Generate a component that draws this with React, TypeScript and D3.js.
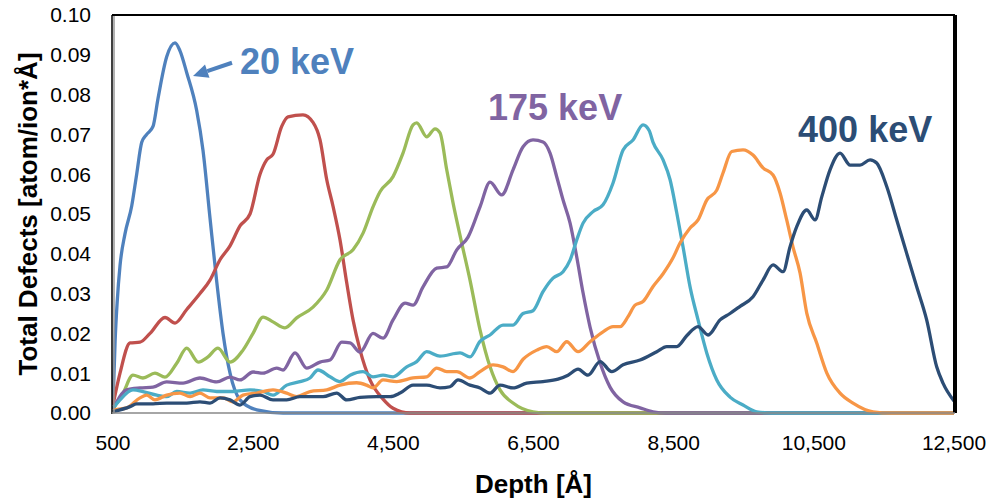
import * as d3 from "d3";

// [depth (Å), defects (atom/ion*Å)]
const e20: [number, number][] = [
  [500, 0.002], [530, 0.018], [560, 0.028], [600, 0.037], [671, 0.045], [767, 0.052],
  [838, 0.06], [910, 0.068], [981, 0.07], [1071, 0.072], [1142, 0.079], [1266, 0.0895],
  [1385, 0.093], [1456, 0.091], [1552, 0.0855], [1694, 0.076], [1784, 0.066], [1884, 0.049],
  [1980, 0.033], [2070, 0.02], [2170, 0.01], [2312, 0.0033], [2551, 0.0008], [2926, 0],
  [12500, 0],
];
const e2: [number, number][] = [
  [500, 0.002], [600, 0.01], [743, 0.0176], [885, 0.0178], [1028, 0.02], [1242, 0.024],
  [1385, 0.0226], [1552, 0.026], [1741, 0.03], [1884, 0.0334], [2027, 0.0385], [2170, 0.042],
  [2312, 0.047], [2455, 0.05], [2598, 0.06], [2693, 0.0636], [2783, 0.065], [2907, 0.072],
  [2997, 0.0744], [3211, 0.0749], [3354, 0.073], [3454, 0.0686], [3550, 0.0586], [3639, 0.052],
  [3739, 0.0435], [3835, 0.0327], [3925, 0.0234], [4025, 0.0158], [4167, 0.0083], [4353, 0.0035],
  [4496, 0.0012], [4738, 0], [12500, 0],
];
const e3: [number, number][] = [
  [500, 0.001], [643, 0.005], [785, 0.0095], [928, 0.0088], [1099, 0.01], [1242, 0.009],
  [1409, 0.0125], [1552, 0.0163], [1717, 0.0128], [1856, 0.0141], [1998, 0.0163], [2170, 0.0128],
  [2355, 0.0158], [2498, 0.02], [2641, 0.0241], [2783, 0.0229], [2954, 0.0214], [3121, 0.0239],
  [3354, 0.0266], [3550, 0.0309], [3739, 0.0385], [3925, 0.041], [4068, 0.0452], [4210, 0.0518],
  [4310, 0.0556], [4496, 0.0594], [4638, 0.0653], [4781, 0.0724], [4834, 0.0729], [4976, 0.0694],
  [5095, 0.0714], [5166, 0.0704], [5262, 0.0611], [5352, 0.0528], [5476, 0.0427], [5594, 0.0334],
  [5737, 0.0209], [5880, 0.0116], [6022, 0.0058], [6208, 0.0025], [6493, 0.0003], [6700, 0],
  [12500, 0],
];
const e175: [number, number][] = [
  [500, 0.001], [695, 0.0058], [885, 0.0063], [1071, 0.0065], [1266, 0.0078], [1499, 0.0075],
  [1741, 0.0088], [1980, 0.0078], [2170, 0.009], [2312, 0.0083], [2498, 0.0103], [2641, 0.01],
  [2836, 0.0113], [2926, 0.0108], [3097, 0.0151], [3264, 0.0113], [3454, 0.0128], [3597, 0.0133],
  [3764, 0.0178], [3882, 0.0176], [4025, 0.0153], [4210, 0.02], [4353, 0.0188], [4496, 0.0234],
  [4667, 0.0276], [4781, 0.0271], [4924, 0.0317], [5119, 0.0364], [5262, 0.0367], [5405, 0.041],
  [5566, 0.0442], [5737, 0.0518], [5880, 0.058], [6047, 0.0548], [6208, 0.0611], [6351, 0.0669],
  [6493, 0.0686], [6636, 0.0681], [6736, 0.0653], [6832, 0.0593], [6922, 0.0535], [7022, 0.0477],
  [7117, 0.0392], [7207, 0.0302], [7307, 0.0216], [7450, 0.0126], [7592, 0.0065], [7778, 0.0028],
  [8020, 0.0013], [8206, 0.0003], [8400, 0], [12500, 0],
];
const e5: [number, number][] = [
  [500, 0.0012], [600, 0.0033], [785, 0.0058], [928, 0.0054], [1124, 0.0045], [1266, 0.0041],
  [1409, 0.0054], [1599, 0.005], [1784, 0.0058], [1980, 0.0054], [2212, 0.0054], [2455, 0.0058],
  [2641, 0.0054], [2783, 0.0045], [2979, 0.007], [3168, 0.0079], [3311, 0.0088], [3425, 0.0108],
  [3597, 0.0091], [3739, 0.0079], [3882, 0.0095], [4068, 0.0104], [4210, 0.0091], [4353, 0.0095],
  [4496, 0.0091], [4691, 0.0116], [4834, 0.0129], [4976, 0.0154], [5166, 0.0143], [5452, 0.0151],
  [5594, 0.0141], [5737, 0.018], [5880, 0.0196], [6065, 0.0221], [6208, 0.0221], [6351, 0.025],
  [6493, 0.0257], [6636, 0.0305], [6779, 0.0339], [6922, 0.0355], [7022, 0.0384], [7117, 0.0435],
  [7207, 0.0477], [7350, 0.0506], [7492, 0.0523], [7635, 0.0578], [7778, 0.0661], [7920, 0.0686],
  [8063, 0.0724], [8150, 0.071], [8206, 0.068], [8349, 0.0636], [8449, 0.0586], [8544, 0.0503],
  [8634, 0.0417], [8734, 0.0317], [8848, 0.0234], [8972, 0.0151], [9115, 0.0083], [9304, 0.004],
  [9490, 0.002], [9685, 0.0003], [9900, 0], [12500, 0],
];
const e6: [number, number][] = [
  [500, 0.0008], [695, 0.0013], [885, 0.0038], [981, 0.0045], [1099, 0.0033], [1266, 0.0045],
  [1456, 0.005], [1599, 0.0041], [1741, 0.005], [1884, 0.0038], [2070, 0.0038], [2212, 0.0028],
  [2355, 0.0045], [2551, 0.005], [2783, 0.0058], [2979, 0.005], [3121, 0.0041], [3311, 0.0054],
  [3550, 0.0058], [3739, 0.007], [3976, 0.0076], [4118, 0.007], [4210, 0.0063], [4353, 0.0083],
  [4548, 0.0079], [4781, 0.0088], [4976, 0.0091], [5119, 0.0113], [5262, 0.0104], [5405, 0.0104],
  [5594, 0.0088], [5737, 0.0104], [5923, 0.0121], [6065, 0.0116], [6208, 0.0104], [6351, 0.0135],
  [6546, 0.0158], [6689, 0.0167], [6832, 0.0154], [6974, 0.0179], [7136, 0.0154], [7307, 0.0179],
  [7492, 0.0204], [7635, 0.0217], [7735, 0.0217], [7849, 0.0242], [7949, 0.0271], [8063, 0.028],
  [8206, 0.0318], [8349, 0.035], [8491, 0.039], [8591, 0.0427], [8734, 0.0465], [8848, 0.0485],
  [8972, 0.0535], [9115, 0.056], [9204, 0.0603], [9328, 0.0657], [9490, 0.0661], [9632, 0.0648],
  [9775, 0.0616], [9918, 0.0598], [10018, 0.0553], [10113, 0.0485], [10203, 0.0417], [10303, 0.0352],
  [10399, 0.0251], [10541, 0.0176], [10684, 0.0101], [10874, 0.005], [11059, 0.0025], [11345, 0.0003],
  [11600, 0], [12500, 0],
];
const e400: [number, number][] = [
  [500, 0.0003], [743, 0.0016], [838, 0.0023], [1071, 0.0023], [1266, 0.0025], [1552, 0.0025],
  [1741, 0.0028], [1884, 0.0025], [2027, 0.0038], [2170, 0.0033], [2312, 0.002], [2455, 0.0041],
  [2598, 0.0045], [2783, 0.0033], [2979, 0.0033], [3168, 0.0041], [3354, 0.0041], [3497, 0.0041],
  [3692, 0.005], [3835, 0.0033], [4025, 0.0039], [4263, 0.0041], [4453, 0.0041], [4596, 0.005],
  [4781, 0.007], [4976, 0.007], [5166, 0.0063], [5309, 0.0066], [5423, 0.0083], [5594, 0.007],
  [5737, 0.0063], [5880, 0.005], [6022, 0.007], [6208, 0.0063], [6403, 0.0075], [6636, 0.0079],
  [6850, 0.0085], [6993, 0.0095], [7136, 0.011], [7278, 0.0095], [7450, 0.0129], [7616, 0.0104],
  [7778, 0.0121], [8020, 0.0133], [8259, 0.0154], [8401, 0.0167], [8544, 0.0167], [8686, 0.0194],
  [8848, 0.0217], [8991, 0.0196], [9162, 0.0234], [9304, 0.025], [9447, 0.0268], [9632, 0.0292],
  [9775, 0.0334], [9918, 0.0372], [10061, 0.0355], [10161, 0.0418], [10256, 0.0468], [10399, 0.051],
  [10517, 0.0485], [10613, 0.0543], [10731, 0.0611], [10874, 0.0653], [11017, 0.0623], [11159, 0.0623],
  [11302, 0.0636], [11397, 0.0628], [11540, 0.0569], [11683, 0.0485], [11825, 0.0401], [11968, 0.0317],
  [12110, 0.0234], [12253, 0.0116], [12343, 0.0075], [12500, 0.003],
];

const series = [e20, e2, e3, e175, e5, e6, e400];
const colors = ["#4F81BD", "#C0504D", "#9BBB59", "#8064A2", "#4BACC6", "#F79646", "#2C4D75"];

const xTicks = [500, 2500, 4500, 6500, 8500, 10500, 12500];
const yTicks = [0, 0.01, 0.02, 0.03, 0.04, 0.05, 0.06, 0.07, 0.08, 0.09, 0.1];

const labels = [
  { text: "20 keV", color: "#4F81BD", depth: 2312, value: 0.0852 },
  { text: "175 keV", color: "#8064A2", depth: 5851, value: 0.0735 },
  { text: "400 keV", color: "#2C4D75", depth: 10275, value: 0.0682 },
];
// arrow for the 20 keV label: tail, then tip near the curve
const arrow20: [number, number][] = [[2198, 0.088], [1642, 0.0847]];

const width = 990;
const height = 498;
const left = 112;
const right = 955;
const top = 15;
const bottom = 413;

export default function App() {
  const x = d3.scaleLinear([500, 12500], [left + 1, right - 1]);
  const y = d3.scaleLinear([0, 0.1], [bottom, top]);
  const line = d3
    .line<[number, number]>()
    .x((d) => x(d[0]))
    .y((d) => y(d[1]))
    .curve(d3.curveMonotoneX);
  const fmtX = d3.format(",");
  const fmtY = d3.format(".2f");
  const font = "'Liberation Sans', Arial, sans-serif";

  // arrow geometry in pixels
  const [tx, ty] = [x(arrow20[0][0]), y(arrow20[0][1])];
  const [hx, hy] = [x(arrow20[1][0]), y(arrow20[1][1])];
  const len = Math.hypot(hx - tx, hy - ty);
  const ux = (hx - tx) / len;
  const uy = (hy - ty) / len;
  const headLen = 15;
  const headW = 7;
  const bx = hx - ux * headLen;
  const by = hy - uy * headLen;

  return (
    <svg
      width={width}
      height={height}
      style={{ position: "absolute", left: 0, top: 0, background: "#fff" }}
      fontFamily={font}
    >
      <defs>
        <clipPath id="plot">
          <rect x={left} y={top - 2} width={right - left} height={bottom - top + 4} />
        </clipPath>
      </defs>
      <g clipPath="url(#plot)">
        {series.map((s, i) => (
          <path
            key={i}
            d={line(s) ?? ""}
            fill="none"
            stroke={colors[i]}
            strokeWidth={3.3}
            strokeLinejoin="round"
          />
        ))}
      </g>
      {/* frame */}
      <line x1={left} x2={right} y1={top} y2={top} stroke="#000" strokeWidth={2} />
      <line x1={right} x2={right} y1={top} y2={bottom} stroke="#000" strokeWidth={4} />
      <line x1={left} x2={left} y1={top} y2={bottom + 1} stroke="#000" strokeWidth={1.5} />
      <line x1={left + 2} x2={left + 2} y1={top + 1} y2={bottom} stroke="#999" strokeWidth={1.5} />
      <line x1={left} x2={right} y1={bottom} y2={bottom} stroke="#888" strokeWidth={1.5} />

      {yTicks.map((t) => (
        <text key={t} x={91} y={y(t)} dy="0.35em" textAnchor="end" fontSize={21} fill="#000">
          {fmtY(t)}
        </text>
      ))}
      {xTicks.map((t) => (
        <text key={t} x={x(t)} y={443} dy="0.35em" textAnchor="middle" fontSize={21} fill="#000">
          {fmtX(t)}
        </text>
      ))}

      <text x={(left + right) / 2} y={484} dy="0.35em" textAnchor="middle" fontSize={26} fontWeight="bold">
        Depth [Å]
      </text>
      <text
        transform={`translate(28,${(top + bottom) / 2}) rotate(-90)`}
        dy="0.35em"
        textAnchor="middle"
        fontSize={26}
        fontWeight="bold"
      >
        Total Defects [atom/ion*Å]
      </text>

      {labels.map((l) => (
        <text key={l.text} x={x(l.depth)} y={y(l.value)} fontSize={36} fontWeight="bold" fill={l.color}>
          {l.text}
        </text>
      ))}
      <g fill="#4F81BD">
        <line x1={tx} y1={ty} x2={bx} y2={by} stroke="#4F81BD" strokeWidth={4} />
        <path
          d={`M${hx},${hy} L${bx - uy * headW},${by + ux * headW} L${bx + uy * headW},${by - ux * headW} Z`}
        />
      </g>
    </svg>
  );
}
